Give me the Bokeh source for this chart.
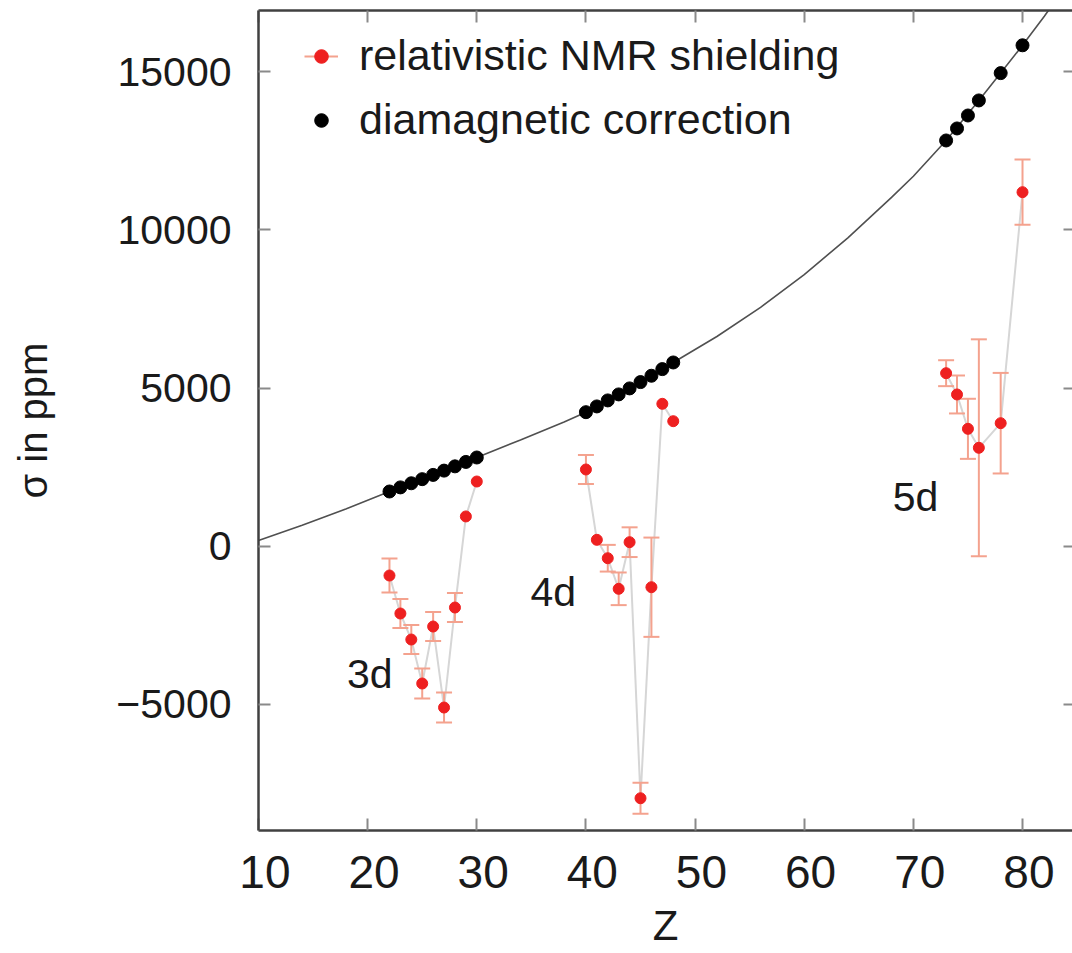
from bokeh.plotting import figure
from bokeh.models import (ColumnDataSource, Range1d, FixedTicker, LinearAxis,
                          Legend, LegendItem, CustomJSTickFormatter)
from bokeh.core.properties import value
from bokeh.embed import file_html
from bokeh.resources import INLINE

# ---------------- data ----------------
z_3d = [22, 23, 24, 25, 26, 27, 28, 29, 30]
nmr_3d = [-927, -2128, -2951, -4342, -2540, -5101, -1939, 941, 2046]
err_3d = [538, 459, 459, 474, 459, 474, 459, 0, 0]

z_4d = [40, 41, 42, 43, 44, 45, 46, 47, 48]
nmr_4d = [2426, 202, -380, -1347, 127, -7970, -1297, 4503, 3953]
err_4d = [459, 0, 422, 516, 470, 490, 1570, 0, 0]

z_5d = [73, 74, 75, 76, 78, 80]
nmr_5d = [5471, 4798, 3712, 3112, 3890, 11195]
err_5d = [410, 600, 950, 3430, 1590, 1030]

dia_3d = [1730, 1860, 1990, 2120, 2255, 2390, 2525, 2665, 2805]
dia_4d = [4238, 4420, 4610, 4800, 4990, 5190, 5390, 5600, 5810]
dia_5d = [12830, 13210, 13620, 14096, 14960, 15840]

fit_z = [10, 14, 18, 22, 26, 30, 34, 38, 40, 44, 48, 52, 56, 60, 64, 68, 70, 73, 76, 78, 80, 82, 83]
fit_sigma = [180, 660, 1180, 1730, 2260, 2805, 3360, 3930, 4238, 4990, 5810, 6630, 7550,
             8590, 9750, 11030, 11700, 12830, 14096, 14960, 15840, 16760, 17240]

group_labels = ["3d", "4d", "5d"]
group_label_z = [20.2, 37.0, 70.2]
group_label_sigma = [-4030, -1460, 1560]

x_ticks = [10, 20, 30, 40, 50, 60, 70, 80]
y_ticks = [-5000, 0, 5000, 10000, 15000]
x_title = "Z"
y_title = "σ in ppm"

FONT = "Liberation Sans"
AXIS_COL = "#404040"
TICK_COL = "#8a8a8a"
ERR_COL = "#f4a28e"
RED = "#ee2020"
LINK_COL = "#d6d6d6"
TXT = "#1a1a1a"

# ---------------- figure ----------------
p = figure(width=1072, height=953,
           x_range=Range1d(10, 84.58), y_range=Range1d(-8990, 16940),
           output_backend="svg", toolbar_location=None,
           min_border_left=258, min_border_right=0,
           min_border_top=10, min_border_bottom=123)
p.outline_line_color = None
p.grid.visible = False
p.background_fill_color = "white"
p.border_fill_color = "white"

def style_axis(ax, ticks, font_size):
    ax.ticker = FixedTicker(ticks=ticks)
    ax.axis_line_color = AXIS_COL
    ax.axis_line_width = 2.5
    ax.major_tick_line_color = TICK_COL
    ax.major_tick_line_width = 2
    ax.major_tick_in = 12
    ax.major_tick_out = 0
    ax.minor_tick_line_color = None
    ax.major_label_text_font = FONT
    ax.major_label_text_color = TXT
    ax.major_label_text_font_size = font_size

style_axis(p.xaxis[0], x_ticks, "46px")
p.xaxis.major_label_standoff = 15
p.xaxis.major_label_overrides = {t: "\u00a0" + str(t) for t in x_ticks}
p.xaxis.axis_label = x_title
p.xaxis.axis_label_text_font = FONT
p.xaxis.axis_label_text_font_size = "42px"
p.xaxis.axis_label_text_font_style = "normal"
p.xaxis.axis_label_text_color = TXT
p.xaxis.axis_label_standoff = 1

style_axis(p.yaxis[0], y_ticks, "41px")
p.yaxis.major_label_standoff = 27
p.yaxis.axis_label = y_title
p.yaxis.axis_label_text_font = FONT
p.yaxis.axis_label_text_font_size = "40px"
p.yaxis.axis_label_text_font_style = "normal"
p.yaxis.axis_label_text_color = TXT
p.yaxis.axis_label_standoff = 58

blank = CustomJSTickFormatter(code="return ''")
top_axis = LinearAxis(formatter=blank, major_label_standoff=0)
style_axis(top_axis, x_ticks, "0px")
p.add_layout(top_axis, "above")

right_axis = LinearAxis(formatter=blank, major_label_standoff=0)
style_axis(right_axis, y_ticks, "0px")
right_axis.axis_line_color = None
right_axis.major_tick_in = 9
p.add_layout(right_axis, "right")

# ---------------- fitted curve ----------------
p.line(fit_z, fit_sigma, line_color="#505050", line_width=1.6)

# ---------------- connecting lines ----------------
for zs, vs in ((z_3d, nmr_3d), (z_4d, nmr_4d), (z_5d, nmr_5d)):
    p.line(zs, vs, line_color=LINK_COL, line_width=2)

# ---------------- error bars ----------------
all_z = z_3d + z_4d + z_5d
all_v = nmr_3d + nmr_4d + nmr_5d
all_e = err_3d + err_4d + err_5d
ez = [z for z, e in zip(all_z, all_e) if e > 0]
elo = [v - e for v, e in zip(all_v, all_e) if e > 0]
ehi = [v + e for v, e in zip(all_v, all_e) if e > 0]
err_src = ColumnDataSource(dict(z=ez, lo=elo, hi=ehi))
seg_r = p.segment(x0="z", y0="lo", x1="z", y1="hi", source=err_src,
                  line_color=ERR_COL, line_width=2)
p.scatter(x="z", y="lo", source=err_src, marker="dash", size=16,
          line_color=ERR_COL, line_width=2)
p.scatter(x="z", y="hi", source=err_src, marker="dash", size=16,
          line_color=ERR_COL, line_width=2)

# ---------------- points ----------------
red_src = ColumnDataSource(dict(z=all_z, v=all_v))
red_r = p.scatter(x="z", y="v", source=red_src, marker="circle", size=11,
                  fill_color=RED, line_color=RED)

dia_src = ColumnDataSource(dict(z=z_3d + z_4d + z_5d, v=dia_3d + dia_4d + dia_5d))
black_r = p.scatter(x="z", y="v", source=dia_src, marker="circle", size=13,
                    fill_color="black", line_color="black")

# ---------------- group labels ----------------
p.text(x=group_label_z, y=group_label_sigma, text=group_labels,
       text_font=value(FONT), text_font_size="41px", text_color=TXT,
       text_align="center", text_baseline="middle")

# ---------------- legend ----------------
legend = Legend(items=[
    LegendItem(label="relativistic NMR shielding", renderers=[seg_r, red_r]),
    LegendItem(label="diamagnetic correction", renderers=[black_r]),
], location=(46, 686))
legend.padding = 0
legend.margin = 0
legend.spacing = 15
legend.glyph_width = 34
legend.glyph_height = 48
legend.label_standoff = 21
legend.label_text_font = FONT
legend.label_text_font_size = "43px"
legend.label_text_color = TXT
legend.border_line_color = None
legend.background_fill_alpha = 0
p.add_layout(legend)

open("out.html", "w").write(file_html(p, INLINE))
